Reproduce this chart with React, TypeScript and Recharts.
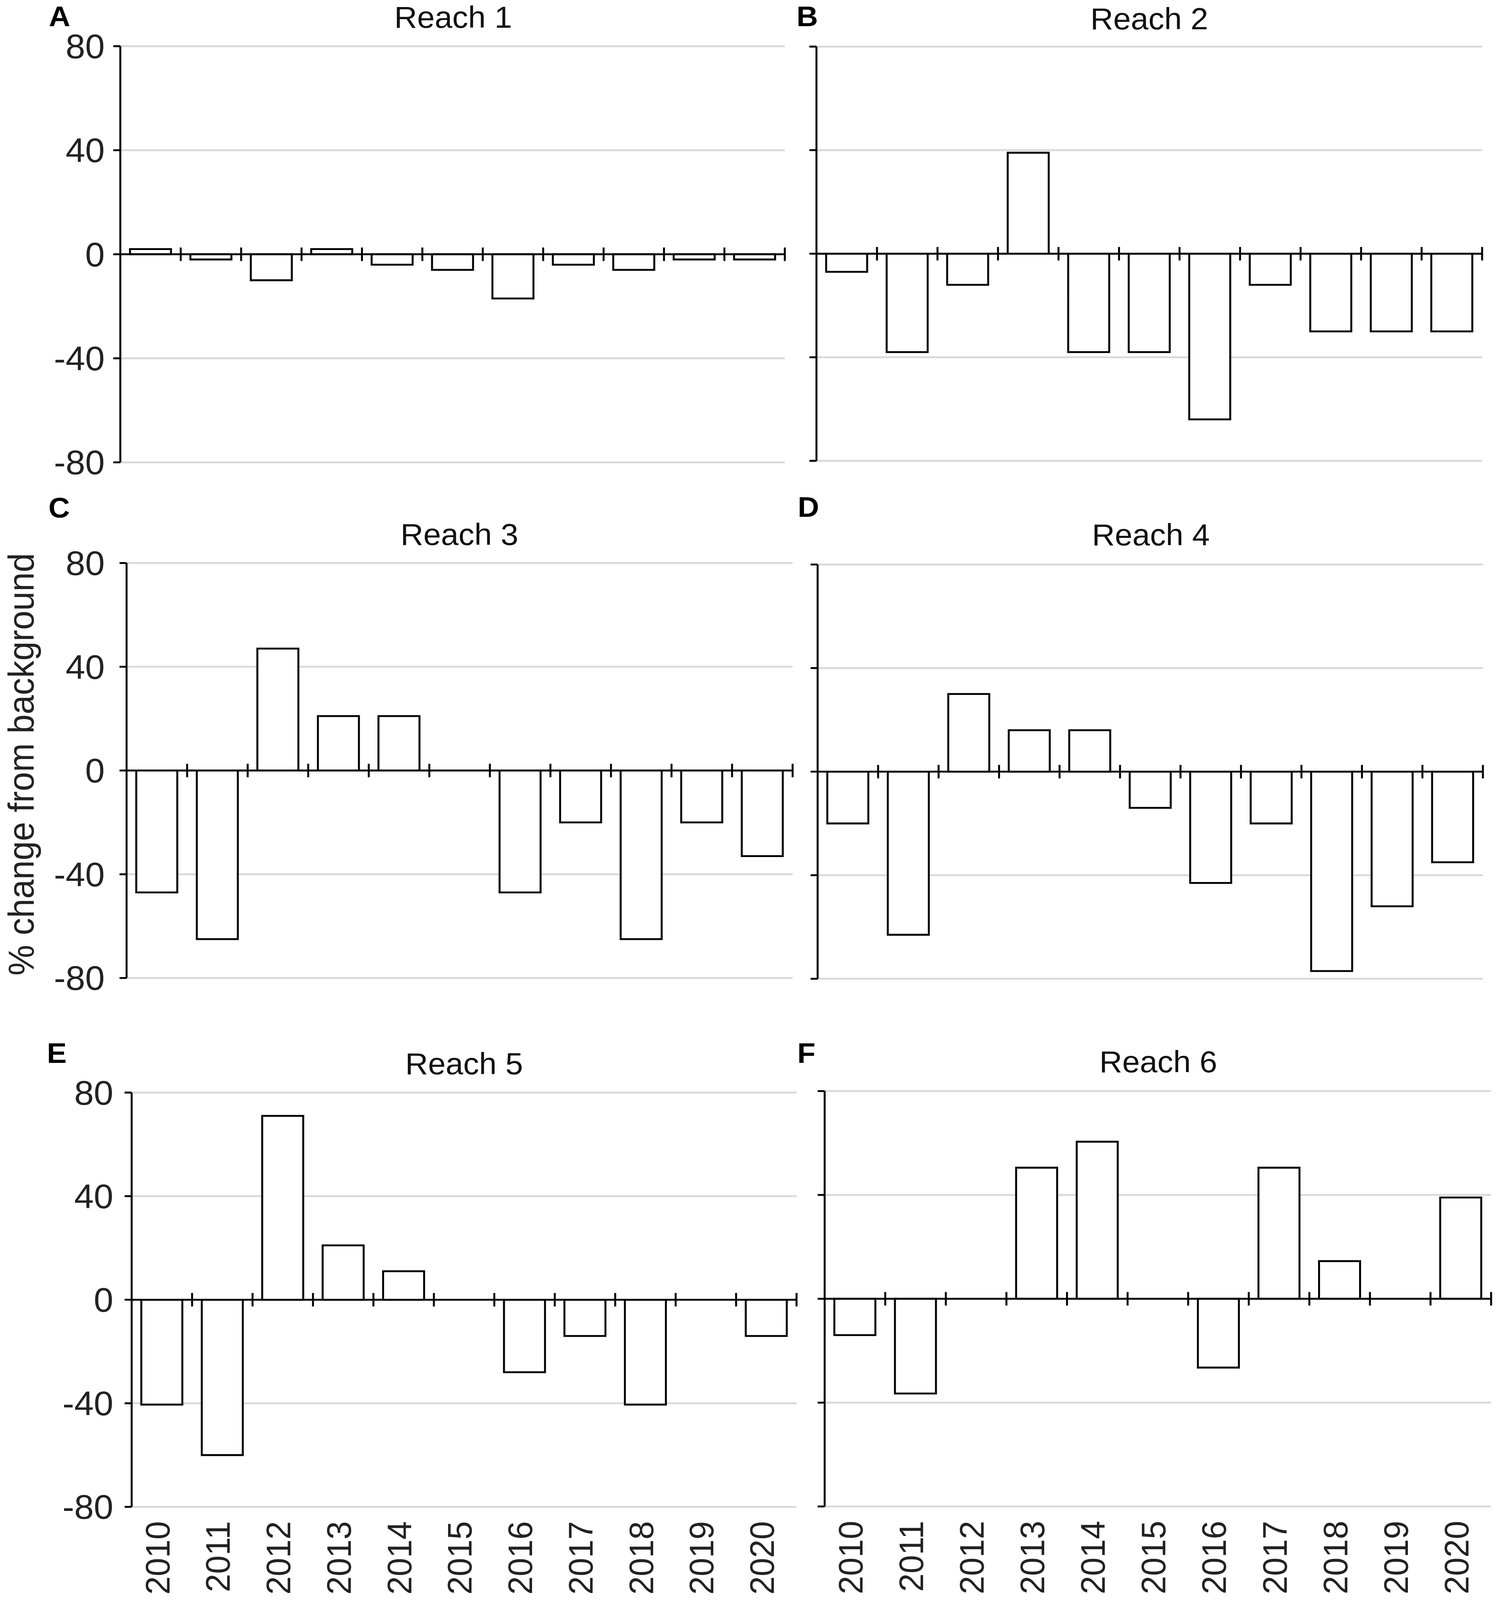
import React from "react";
import { BarChart, Bar, XAxis, YAxis, CartesianGrid, ReferenceLine } from "recharts";

// years on the x axis
const years = ["2010", "2011", "2012", "2013", "2014", "2015", "2016", "2017", "2018", "2019", "2020"];

// % change from background, one list per reach
const reach1 = [2, -2, -10, 2, -4, -6, -17, -4, -6, -2, -2];
const reach2 = [-7, -38, -12, 39, -38, -38, -64, -12, -30, -30, -30];
const reach3 = [-47, -65, 47, 21, 21, 0, -47, -20, -65, -20, -33];
const reach4 = [-20, -63, 30, 16, 16, -14, -43, -20, -77, -52, -35];
const reach5 = [-40.5, -60, 71, 21, 11, 0, -28, -14, -40.5, 0, -14];
const reach6 = [-14, -36.5, 0, 50.5, 60.5, 0, -26.5, 50.5, 14.5, 0, 39];

const yTicks = [-80, -40, 0, 40, 80];

const FONT = '"Liberation Sans", Arial, Helvetica, sans-serif';
const BASE_W = 3850;
const BASE_H = 4260;
const Y_W = 300;
const PAD = 60;
const X_H = 240;
const TICK_HALF = 2.6;

type Panel = {
  letter: string;
  title: string;
  values: number[];
  left: number;
  right: number;
  top: number;
  bottom: number;
  yLabels: boolean;
  xLabels: boolean;
  labelGap: number;
  titleX: number;
  titleTop: number;
  letterX: number;
  letterTop: number;
};

const panels: Panel[] = [
  { letter: "A", title: "Reach 1", values: reach1, left: 308, right: 2009, top: 123, bottom: 1231, yLabels: true, xLabels: false, labelGap: 22, titleX: 1160, titleTop: 17, letterX: 125, letterTop: 16 },
  { letter: "B", title: "Reach 2", values: reach2, left: 2090, right: 3794, top: 124, bottom: 1227, yLabels: false, xLabels: false, labelGap: 22, titleX: 2942, titleTop: 21, letterX: 2039, letterTop: 16 },
  { letter: "C", title: "Reach 3", values: reach3, left: 324, right: 2029, top: 1499, bottom: 2604, yLabels: true, xLabels: false, labelGap: 38, titleX: 1176, titleTop: 1394, letterX: 124, letterTop: 1324 },
  { letter: "D", title: "Reach 4", values: reach4, left: 2093, right: 3796, top: 1503, bottom: 2606, yLabels: false, xLabels: false, labelGap: 22, titleX: 2946, titleTop: 1395, letterX: 2042, letterTop: 1322 },
  { letter: "E", title: "Reach 5", values: reach5, left: 337, right: 2039, top: 2909, bottom: 4012, yLabels: true, xLabels: true, labelGap: 29, titleX: 1188, titleTop: 2803, letterX: 120, letterTop: 2776 },
  { letter: "F", title: "Reach 6", values: reach6, left: 2111, right: 3817, top: 2905, bottom: 4011, yLabels: false, xLabels: true, labelGap: 22, titleX: 2965, titleTop: 2798, letterX: 2041, letterTop: 2776 },
];

function YearTick(props: any) {
  const { x, y, payload } = props;
  return (
    <text
      x={0}
      y={0}
      transform={`translate(${x},${y + 38}) rotate(-90)`}
      textAnchor="end"
      dy="0.22em"
      fontSize={88}
      fill="#222"
      fontFamily={FONT}
    >
      {payload.value}
    </text>
  );
}

function PanelChart({ p }: { p: Panel }) {
  const rows = years.map((year, i) => ({ year, value: p.values[i] }));
  const plotW = p.right - p.left;
  const plotH = p.bottom - p.top;
  const last = years[years.length - 1];

  return (
    <div style={{ position: "absolute", left: p.left - Y_W, top: p.top - PAD }}>
      <BarChart
        width={Y_W + plotW + PAD}
        height={PAD + plotH + (p.xLabels ? X_H : PAD)}
        data={rows}
        margin={{ top: PAD, right: PAD, bottom: p.xLabels ? 0 : PAD, left: 0 }}
        barCategoryGap="16%"
      >
        <CartesianGrid vertical={false} stroke="#d9d9d9" strokeWidth={5} />
        <XAxis
          dataKey="year"
          hide={!p.xLabels}
          height={X_H}
          axisLine={false}
          tickLine={false}
          tickSize={0}
          tickMargin={0}
          interval={0}
          tick={(t: any) => <YearTick {...t} />}
        />
        <YAxis
          type="number"
          domain={[-80, 80]}
          ticks={yTicks}
          interval={0}
          width={Y_W}
          axisLine={{ stroke: "#000", strokeWidth: 5 }}
          tickLine={{ stroke: "#000", strokeWidth: 5 }}
          tickSize={18}
          tickMargin={p.labelGap}
          tick={p.yLabels ? { fontSize: 90, fill: "#222", fontFamily: FONT } : () => <g />}
        />
        <Bar dataKey="value" fill="#fff" stroke="#000" strokeWidth={5} isAnimationActive={false} />
        <ReferenceLine y={0} stroke="#000" strokeWidth={5} />
        {years.slice(1).map((yr) => (
          <ReferenceLine
            key={yr}
            segment={[{ x: yr, y: -TICK_HALF }, { x: yr, y: TICK_HALF }]}
            position="start"
            stroke="#000"
            strokeWidth={5}
          />
        ))}
        <ReferenceLine
          segment={[{ x: last, y: -TICK_HALF }, { x: last, y: TICK_HALF }]}
          position="end"
          stroke="#000"
          strokeWidth={5}
        />
      </BarChart>
    </div>
  );
}

export default function App() {
  // fit the 3850x4260 figure into whatever viewport the browser really has
  const vw = typeof window !== "undefined" && window.innerWidth > 1000 ? window.innerWidth : BASE_W;
  const vh = typeof window !== "undefined" && window.innerHeight > 1000 ? window.innerHeight : BASE_H;
  const sx = vw / BASE_W;
  const sy = vh / BASE_H;

  return (
    <div
      style={{
        position: "fixed",
        left: 0,
        top: 0,
        width: BASE_W,
        height: BASE_H,
        transform: `scale(${sx}, ${sy})`,
        transformOrigin: "0 0",
        background: "#fff",
        fontFamily: FONT,
        overflow: "hidden",
      }}
    >
      {panels.map((p) => (
        <PanelChart key={p.letter} p={p} />
      ))}
      {panels.map((p) => (
        <div
          key={"t" + p.letter}
          style={{
            position: "absolute",
            left: p.titleX - 800,
            width: 1600,
            top: p.titleTop - 11,
            fontSize: 81,
            lineHeight: 1,
            textAlign: "center",
            color: "#111",
            whiteSpace: "nowrap",
          }}
        >
          {p.title}
        </div>
      ))}
      {panels.map((p) => (
        <div
          key={"l" + p.letter}
          style={{
            position: "absolute",
            left: p.letterX,
            top: p.letterTop - 10,
            fontSize: 76,
            fontWeight: "bold",
            lineHeight: 1,
            color: "#000",
          }}
        >
          {p.letter}
        </div>
      ))}
      <svg style={{ position: "absolute", left: 0, top: 0 }} width={200} height={BASE_H}>
        <text
          x={0}
          y={0}
          transform="translate(86,2035) rotate(-90)"
          textAnchor="middle"
          fontSize={92}
          fill="#222"
          fontFamily={FONT}
        >
          % change from background
        </text>
      </svg>
    </div>
  );
}
